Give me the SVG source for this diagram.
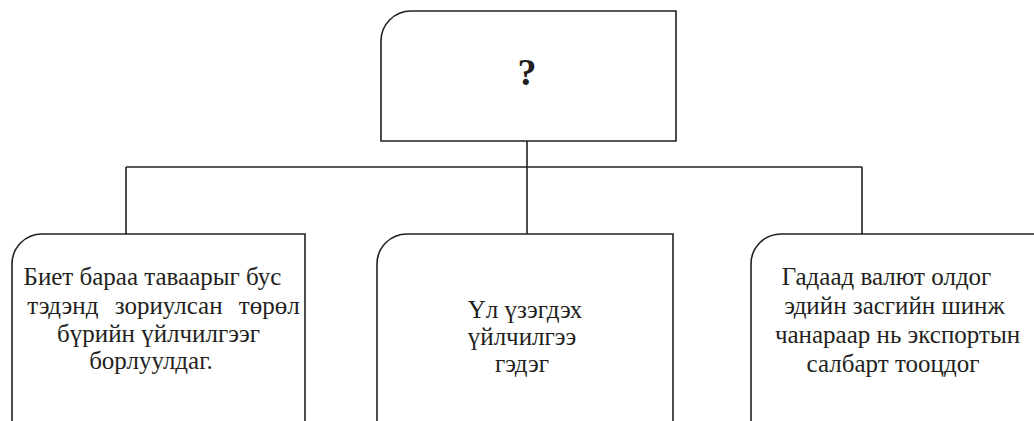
<svg xmlns="http://www.w3.org/2000/svg" width="1034" height="421" viewBox="0 0 1034 421">
<style>
.box{fill:#fff;stroke:#231f20;stroke-width:1.6}
.con{fill:none;stroke:#231f20;stroke-width:1.6}
.t{font-family:"Liberation Serif","Times New Roman",serif;font-size:25px;fill:#231f20;text-anchor:middle}
.q{font-family:"Liberation Serif","Times New Roman",serif;font-size:38px;font-weight:bold;fill:#231f20;text-anchor:middle}
</style>
<rect width="1034" height="421" fill="#fff"/>
<g id="connectors">
<path class="con" d="M527 141 V167 M126 167 H862 M126 167 V234 M527 167 V234 M862 167 V234"/>
</g>
<g id="top">
<path class="box" d="M381 141 V41 A30 30 0 0 1 411 11 H676 V141 Z"/>
<text class="q" x="527" y="85">?</text>
</g>
<g id="left">
<path class="box" d="M12 430 V264 A30 30 0 0 1 42 234 H305 V430"/>
<text class="t" x="152.5" y="285">Биет бараа таваарыг бус</text>
<text class="t" x="163.5" y="314" word-spacing="10">тэдэнд зориулсан төрөл</text>
<text class="t" x="158.5" y="342">бүрийн үйлчилгээг</text>
<text class="t" x="151" y="369">борлуулдаг.</text>
</g>
<g id="middle">
<path class="box" d="M377 430 V264 A30 30 0 0 1 407 234 H673 V430"/>
<text class="t" x="525" y="318">Үл үзэгдэх</text>
<text class="t" x="522" y="345">үйлчилгээ</text>
<text class="t" x="522" y="372">гэдэг</text>
</g>
<g id="right">
<path class="box" d="M751 430 V264 A30 30 0 0 1 781 234 H1040"/>
<text class="t" x="886.5" y="285">Гадаад валют олдог</text>
<text class="t" x="894.5" y="314">эдийн засгийн шинж</text>
<text class="t" x="897.5" y="343">чанараар нь экспортын</text>
<text class="t" x="893" y="372">салбарт тооцдог</text>
</g>
</svg>
